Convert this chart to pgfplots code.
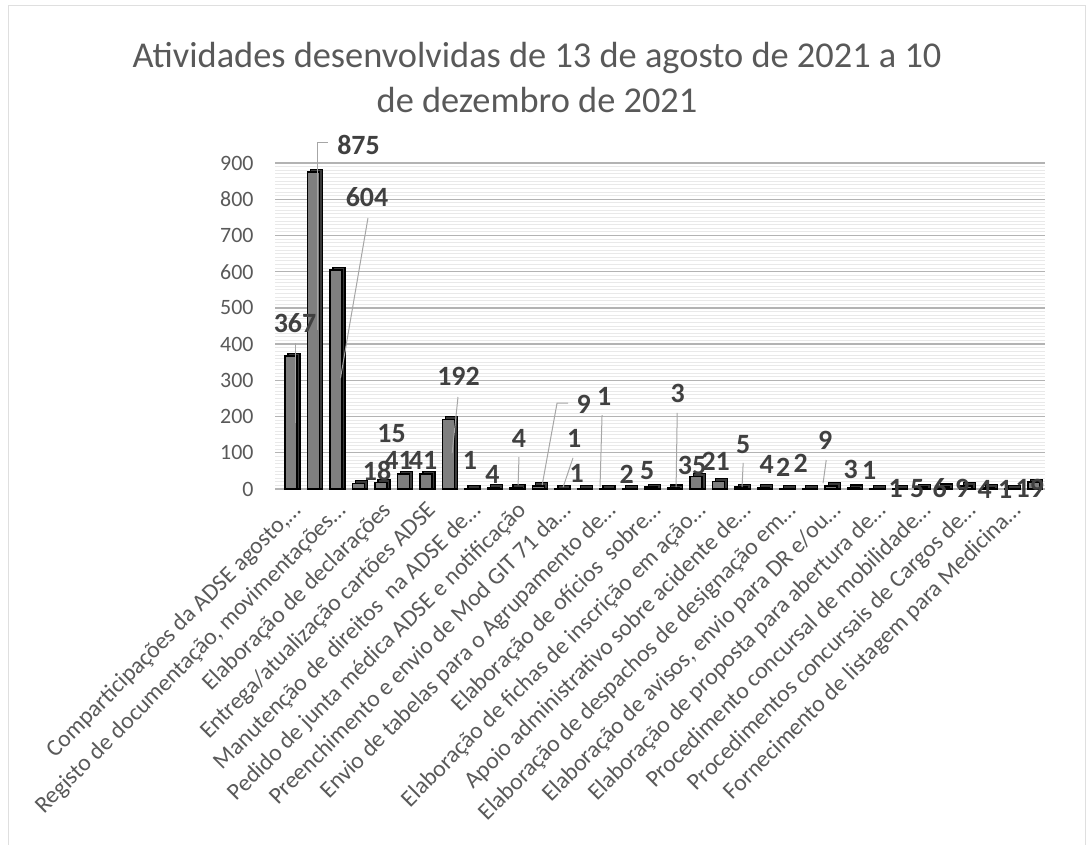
\documentclass[border=0pt]{standalone}
\usepackage{fontspec}
\setmainfont{Carlito}
\usepackage{pgfplots}
\pgfplotsset{compat=1.18}
\usepackage{pgfplotstable}
\definecolor{txt}{HTML}{595959}
\definecolor{lbl}{HTML}{404040}
\definecolor{barc}{HTML}{7F7F7F}
\definecolor{barside}{HTML}{3A3A3A}
\definecolor{gridc}{HTML}{B3B3B3}
\definecolor{mgrid}{HTML}{E9E9E9}
\definecolor{lead}{HTML}{A6A6A6}

\pgfplotstableread{
x y dx dy
1 367 4 33
2 875 45 27
3 604 31 73
4 15 33 50
5 18 -4 12
6 41 -5 14
7 41 -3 14
8 192 10 43
9 1 -1 28
10 4 -1 13
11 4 3 49
12 9 45 81
13 1 13 50
14 1 -7 15
15 1 -2 92
16 2 -2 14
17 5 -4 17
18 3 4 94
19 35 -4 11
20 21 -3 20
21 5 2 43
22 4 3 23
23 2 -3 21
24 2 -8 25
25 9 -6 45
26 3 -3 18
27 1 -7 18
28 1 -3 0
29 5 -4 -1
30 6 -4 -1
31 9 -4 -3
32 4 -4 -2
33 1 -6 -1
34 19 -4 -6
}\datatable

\begin{document}
\begin{tikzpicture}
\path[use as bounding box] (0bp,0bp) rectangle (1091bp,-845bp);
\draw[gray!25, line width=1bp] (8bp,-850bp) -- (8bp,-5bp) -- (1085bp,-5bp) -- (1085bp,-850bp);
\node[txt, font=\fontsize{36.5}{45}\selectfont, anchor=base] at (537bp,-67bp)
  {Atividades desenvolvidas de 13 de agosto de 2021 a 10};
\node[txt, font=\fontsize{36.5}{45}\selectfont, anchor=base] at (537bp,-112bp)
  {de dezembro de 2021};
\begin{axis}[
  at={(275bp,-489bp)}, anchor=south west,
  scale only axis, width=770bp, height=326bp,
  xmin=0.29, xmax=34.5, ymin=0, ymax=900,
  ybar, bar width=12bp,
  axis line style={draw=none}, tick style={draw=none},
  ytick={0,100,...,900}, minor y tick num=9,
  ymajorgrids, yminorgrids,
  major grid style={gridc, line width=1.3bp},
  minor grid style={mgrid, line width=0.8bp},
  xtick={1,3,...,33},
  xticklabels={
    {Comparticipações da ADSE agosto,…},
    {Registo de documentação, movimentações…},
    {Elaboração de declarações},
    {Entrega/atualização cartões ADSE},
    {Manutenção de direitos~ na ADSE de…},
    {Pedido de junta médica ADSE e notificação},
    {Preenchimento e envio de Mod GIT 71 da…},
    {Envio de tabelas para o Agrupamento de…},
    {Elaboração de ofícios~ sobre…},
    {Elaboração de fichas de inscrição em ação…},
    {Apoio administrativo sobre acidente de…},
    {Elaboração de despachos de designação em…},
    {Elaboração de avisos, envio para DR e/ou…},
    {Elaboração de proposta para abertura de…},
    {Procedimento concursal de mobilidade…},
    {Procedimentos concursais de Cargos de…},
    {Fornecimento de listagem para Medicina…}},
  xticklabel style={rotate=45, anchor=north east, txt, inner sep=1bp,
    font=\fontsize{23.8}{28}\selectfont, yshift=-3bp, xshift=-4bp},
  yticklabel style={txt, font=\fontsize{22}{26}\selectfont, xshift=-18bp},
  /pgf/number format/assume math mode=true,
  clip=false,
]
\addplot[bar shift=3bp, fill=barside, draw=black, line width=1.2bp]
  table[x=x, y expr=\thisrow{y}+8] {\datatable};
\addplot[bar shift=0bp, fill=barc, draw=black, line width=1.5bp,
  nodes near coords,
  visualization depends on=\thisrow{dx}\as\dx,
  visualization depends on=\thisrow{dy}\as\dy,
  every node near coord/.append style={anchor=center, xshift=\dx bp, yshift=\dy bp,
    font=\bfseries\fontsize{28}{32}\selectfont, lbl, inner sep=0pt},
  ] table[x=x, y=y] {\datatable};
\draw[lead, line width=1bp] (axis cs:1.18,403) -- (axis cs:1.18,182);
\draw[lead, line width=1bp] (axis cs:2.64,958) -- (axis cs:2.2,958) -- (axis cs:2.2,439);
\draw[lead, line width=1bp] (axis cs:4.42,748) -- (axis cs:3.2,306);
\draw[lead, line width=1bp] (axis cs:8.42,254) -- (axis cs:8.16,99);
\draw[lead, line width=1bp] (axis cs:11.13,88) -- (axis cs:11.09,11);
\draw[lead, line width=1bp] (axis cs:13.31,237) -- (axis cs:12.82,237) -- (axis cs:12.16,11);
\draw[lead, line width=1bp] (axis cs:13.53,86) -- (axis cs:13.09,5);
\draw[lead, line width=1bp] (axis cs:14.82,204) -- (axis cs:14.73,5);
\draw[lead, line width=1bp] (axis cs:18.16,210) -- (axis cs:18.11,5);
\draw[lead, line width=1bp] (axis cs:21.09,72) -- (axis cs:21.04,5);
\draw[lead, line width=1bp] (axis cs:24.78,80) -- (axis cs:24.64,16);
\end{axis}
\end{tikzpicture}
\end{document}
